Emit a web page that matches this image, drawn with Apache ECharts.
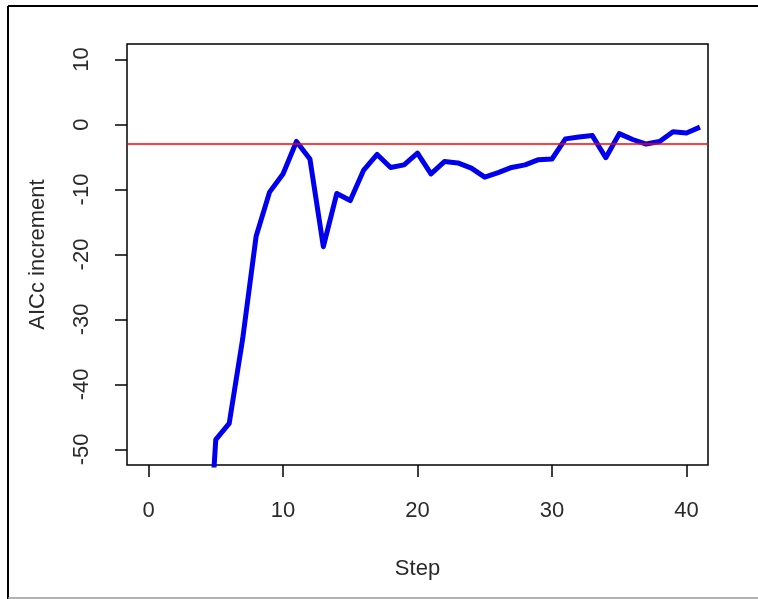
<!DOCTYPE html>
<html>
<head>
<meta charset="utf-8">
<script src="https://cdn.jsdelivr.net/npm/echarts@6/dist/echarts.min.js"></script>
<style>
  html, body { margin: 0; padding: 0; background: #fff; }
  #chart { width: 758px; height: 599px; }
</style>
</head>
<body>
<div id="chart"></div>
<script>
// steps and AICc increment (step 4 is below the plot, clipped)
const steps = [4, 5, 6, 7, 8, 9, 10, 11, 12, 13, 14, 15, 16, 17, 18, 19, 20, 21, 22, 23,
  24, 25, 26, 27, 28, 29, 30, 31, 32, 33, 34, 35, 36, 37, 38, 39, 40, 41];
const aicc = [-82, -48.5, -46, -33, -17.2, -10.4, -7.6, -2.6, -5.3, -18.8, -10.6, -11.7,
  -7.0, -4.6, -6.6, -6.2, -4.4, -7.6, -5.7, -5.9, -6.7, -8.1, -7.4, -6.6, -6.2, -5.4,
  -5.3, -2.2, -1.9, -1.7, -5.1, -1.4, -2.3, -3.0, -2.6, -1.1, -1.3, -0.4];
const threshold = -3;
const xTicks = [0, 10, 20, 30, 40];
const yTicks = [-50, -40, -30, -20, -10, 0, 10];

const chart = echarts.init(document.getElementById('chart'));

const font = 'Liberation Sans, Arial, sans-serif';
const textColor = '#2a2a2a';

const option = {
  backgroundColor: '#fff',
  animation: false,
  grid: {
    left: 127, right: 50, top: 44, bottom: 134,
    show: true, borderColor: '#000', borderWidth: 1.5, backgroundColor: 'transparent'
  },
  xAxis: {
    type: 'value',
    min: -1.6, max: 41.6,
    name: 'Step',
    nameLocation: 'middle',
    nameGap: 93,
    nameTextStyle: { fontFamily: font, fontSize: 22, color: textColor },
    axisLine: { show: false, onZero: false },
    splitLine: { show: false },
    axisTick: { show: true, inside: false, length: 12, customValues: xTicks,
      lineStyle: { color: '#000', width: 1.5 } },
    axisLabel: { customValues: xTicks, margin: 35, fontFamily: font, fontSize: 22, color: textColor }
  },
  yAxis: {
    type: 'value',
    min: -52.4, max: 12.4,
    name: 'AICc increment',
    nameLocation: 'middle',
    nameGap: 78,
    nameTextStyle: { fontFamily: font, fontSize: 22, color: textColor },
    axisLine: { show: false, onZero: false },
    splitLine: { show: false },
    axisTick: { show: true, inside: false, length: 12, customValues: yTicks,
      lineStyle: { color: '#000', width: 1.5 } },
    axisLabel: { customValues: yTicks, rotate: 90, margin: 34, fontFamily: font, fontSize: 22, color: textColor }
  },
  graphic: [
    { type: 'line', shape: { x1: 8, y1: 6, x2: 8, y2: 599 }, style: { stroke: '#000', lineWidth: 2 } },
    { type: 'line', shape: { x1: 8, y1: 6, x2: 758, y2: 6 }, style: { stroke: '#000', lineWidth: 2 } },
    { type: 'line', shape: { x1: 8, y1: 598, x2: 758, y2: 598 }, style: { stroke: '#999', lineWidth: 1.5 } }
  ],
  series: [
    {
      type: 'line',
      data: steps.map((s, i) => [s, aicc[i]]),
      showSymbol: false,
      clip: true,
      lineStyle: { color: '#0000ee', width: 5, join: 'round' },
      markLine: {
        silent: true,
        symbol: 'none',
        label: { show: false },
        lineStyle: { color: '#ff0000', width: 1.5, type: 'solid' },
        data: [{ yAxis: threshold }]
      }
    }
  ]
};

chart.setOption(option);
</script>
</body>
</html>
